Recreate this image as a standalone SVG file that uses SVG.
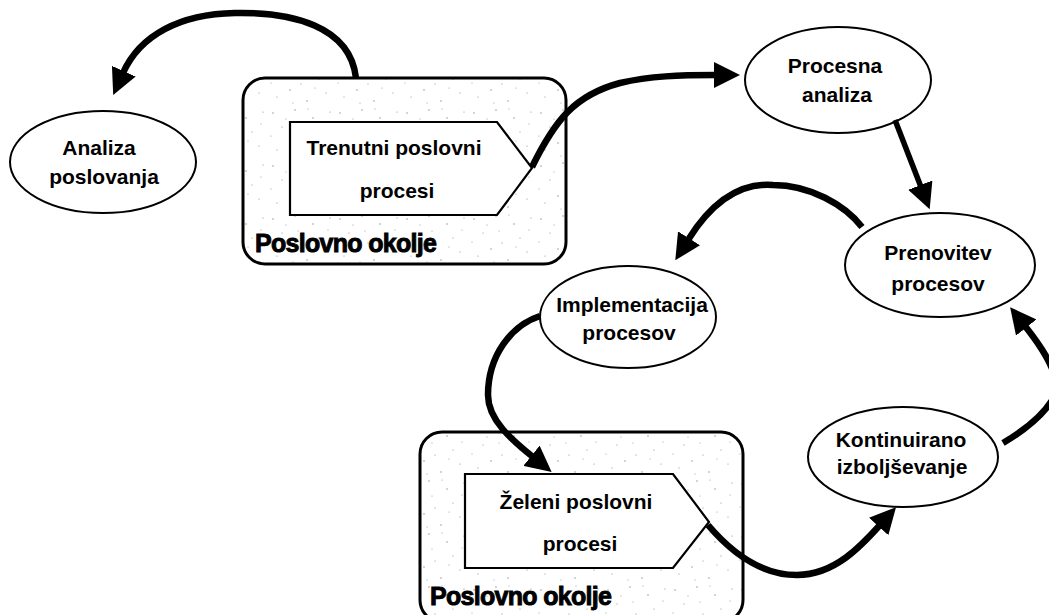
<svg xmlns="http://www.w3.org/2000/svg" width="1049" height="615" viewBox="0 0 1049 615">
<style>
  .ell { fill: #ffffff; stroke: #000000; stroke-width: 2; }
  .env { fill: url(#speckle); stroke: #000000; stroke-width: 3; }
  .pent { fill: #ffffff; stroke: #000000; stroke-width: 2.2; }
  .t { font-family: "Liberation Sans", Arial, sans-serif; font-weight: bold; font-size: 21px; fill: #000000; text-anchor: middle; }
  .env-label { font-family: "Liberation Sans", Arial, sans-serif; font-weight: bold; font-size: 25px; fill: #000000; stroke: #000000; stroke-width: 0.9; letter-spacing: -0.7px; }
  .conn { fill: none; stroke: #000000; stroke-width: 6.5; stroke-linecap: butt; marker-end: url(#head); }
</style>
<defs>
  <marker id="head" markerUnits="userSpaceOnUse" viewBox="0 0 26 26" markerWidth="26" markerHeight="26" refX="2" refY="13" orient="auto">
    <path d="M0,0 L26,13 L0,26 Z" fill="#000000"/>
  </marker>
  <pattern id="speckle" patternUnits="userSpaceOnUse" width="67" height="53">
    <rect width="67" height="53" fill="#ffffff"/>
    <g fill="#8a8a8a">
      <circle cx="5" cy="7" r="0.7"/><circle cx="14" cy="21" r="0.6"/><circle cx="27" cy="4" r="0.7"/>
      <circle cx="33" cy="31" r="0.6"/><circle cx="45" cy="12" r="0.7"/><circle cx="58" cy="40" r="0.6"/>
      <circle cx="9" cy="44" r="0.6"/><circle cx="22" cy="37" r="0.7"/><circle cx="51" cy="26" r="0.6"/>
      <circle cx="62" cy="6" r="0.6"/><circle cx="39" cy="48" r="0.7"/><circle cx="18" cy="13" r="0.5"/>
      <circle cx="30" cy="19" r="0.5"/><circle cx="47" cy="35" r="0.5"/><circle cx="3" cy="30" r="0.5"/>
      <circle cx="60" cy="18" r="0.5"/><circle cx="25" cy="50" r="0.5"/><circle cx="40" cy="3" r="0.5"/>
    </g>
  </pattern>
</defs>

<g id="okolje-1">
  <rect class="env" x="243" y="78" width="323" height="186" rx="22" ry="22"/>
  <text class="env-label" x="255" y="252">Poslovno okolje</text>
</g>
<g id="trenutni-procesi">
  <polygon class="pent" points="290,122 497,122 532,168 497,215 290,215"/>
  <text class="t" x="394" y="155">Trenutni poslovni</text>
  <text class="t" x="397" y="198">procesi</text>
</g>

<g id="okolje-2">
  <rect class="env" x="420" y="432" width="323" height="190" rx="22" ry="22"/>
  <text class="env-label" x="430" y="605">Poslovno okolje</text>
</g>
<g id="zeleni-procesi">
  <polygon class="pent" points="465,474 673,474 709,522 673,568 465,568"/>
  <text class="t" x="576" y="509">Želeni poslovni</text>
  <text class="t" x="580" y="551">procesi</text>
</g>

<g id="analiza-poslovanja">
  <ellipse class="ell" cx="103" cy="162" rx="93" ry="51"/>
  <text class="t" x="99" y="155">Analiza</text>
  <text class="t" x="104" y="184">poslovanja</text>
</g>
<g id="procesna-analiza">
  <ellipse class="ell" cx="838" cy="80" rx="93" ry="53"/>
  <text class="t" x="835" y="73">Procesna</text>
  <text class="t" x="837" y="102">analiza</text>
</g>
<g id="prenovitev-procesov">
  <ellipse class="ell" cx="940" cy="265" rx="95" ry="52"/>
  <text class="t" x="938" y="260">Prenovitev</text>
  <text class="t" x="938" y="291">procesov</text>
</g>
<g id="implementacija-procesov">
  <ellipse class="ell" cx="628" cy="317" rx="88" ry="51"/>
  <text class="t" x="632" y="312">Implementacija</text>
  <text class="t" x="629" y="340">procesov</text>
</g>
<g id="kontinuirano-izboljsevanje">
  <ellipse class="ell" cx="903" cy="457" rx="95" ry="50"/>
  <text class="t" x="901" y="447">Kontinuirano</text>
  <text class="t" x="902" y="474">izboljševanje</text>
</g>

<g id="connectors">
  <path class="conn" d="M356,78 C350,25 290,12 235,13 C180,14 140,35 123,73"/>
  <path class="conn" d="M532,167 C555,120 575,95 620,83 C650,76 680,75 716,75"/>
  <path class="conn" style="stroke-width:5.5" d="M895,120 L921,187"/>
  <path class="conn" d="M862,227 C845,205 810,185 773,185 C735,182 708,208 688,240"/>
  <path class="conn" d="M540,316 C512,325 488,355 488,395 C488,420 512,440 533,457"/>
  <path class="conn" d="M708,525 C725,545 755,575 797,575 C835,575 862,545 880,525"/>
  <path class="conn" d="M1003,443 C1025,430 1045,415 1055,395 C1062,375 1040,345 1025,326"/>
</g>
</svg>
